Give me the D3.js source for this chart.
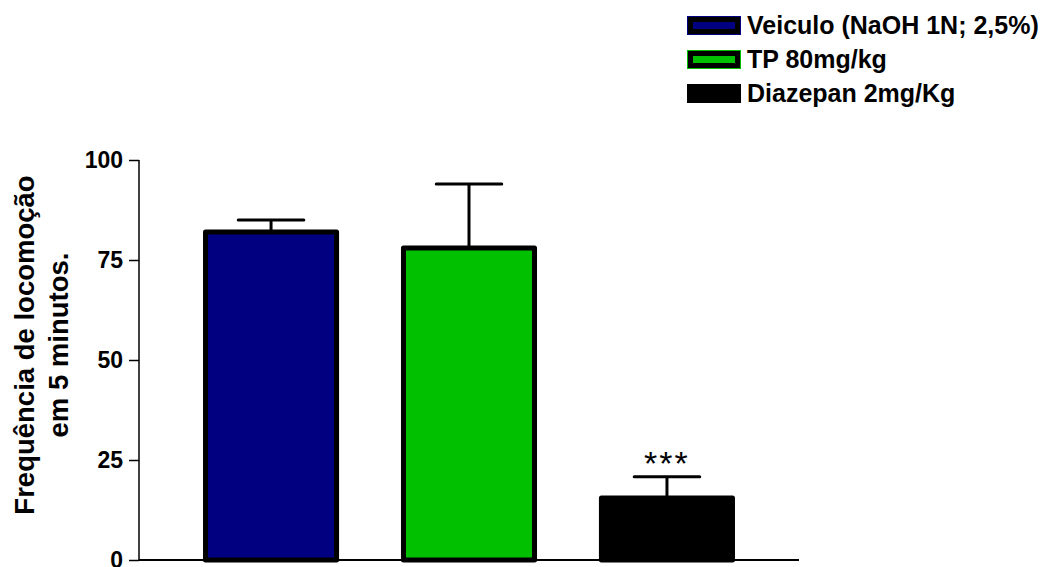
<!DOCTYPE html>
<html>
<head>
<meta charset="utf-8">
<script src="https://d3js.org/d3.v7.min.js"></script>
<style>
  body { margin: 0; background: #fff; }
  text { font-family: "Liberation Sans", Arial, Helvetica, sans-serif; }
</style>
</head>
<body>
<div id="graph"></div>
<script>
// data
var groups = ["Veiculo (NaOH 1N; 2,5%)", "TP 80mg/kg", "Diazepan 2mg/Kg"];
var means = [82, 78, 15.5];
var sems = [3, 16, 5.3];
var fills = ["#000080", "#00c000", "#000000"];
var marks = ["", "", "***"];
var yTicks = [0, 25, 50, 75, 100];

var W = 1051, H = 567;

var svg = d3.select("#graph")
  .append("svg")
    .attr("width", W)
    .attr("height", H);

var x = d3.scaleBand()
  .domain(groups)
  .range([139, 799])
  .paddingInner(0.338)
  .paddingOuter(0.336);

var y = d3.scaleLinear()
  .domain([0, 100])
  .range([560, 160]);

// y axis
var yAxis = svg.append("g")
  .attr("transform", "translate(139,0)")
  .call(d3.axisLeft(y).tickValues(yTicks).tickSize(10).tickPadding(6).tickFormat(d3.format("d")));
yAxis.select(".domain").attr("stroke-width", 1.5).attr("d", "M0," + y(100) + "V" + y(0));
yAxis.selectAll(".tick line").attr("stroke-width", 1.5);
yAxis.selectAll(".tick text")
  .style("font-family", "'Liberation Sans', Arial, sans-serif")
  .style("font-weight", "bold")
  .style("font-size", "23px")
  .attr("fill", "#000");

// x axis line
svg.append("line")
  .attr("x1", x.range()[0]).attr("x2", x.range()[1])
  .attr("y1", y(0)).attr("y2", y(0))
  .attr("stroke", "#000").attr("stroke-width", 2);

// y label
svg.append("text")
  .attr("transform", "translate(34," + 345 + ") rotate(-90)")
  .attr("text-anchor", "middle")
  .style("font-weight", "bold")
  .style("font-size", "27.5px")
  .text("Frequência de locomoção");
svg.append("text")
  .attr("transform", "translate(68," + 345 + ") rotate(-90)")
  .attr("text-anchor", "middle")
  .style("font-weight", "bold")
  .style("font-size", "27.5px")
  .text("em 5 minutos.");

var idx = d3.range(groups.length);

// error bars (behind bars)
svg.append("g").selectAll("line.err")
  .data(idx).enter().append("line")
    .attr("x1", function(i) { return x(groups[i]) + x.bandwidth() / 2; })
    .attr("x2", function(i) { return x(groups[i]) + x.bandwidth() / 2; })
    .attr("y1", function(i) { return y(means[i]); })
    .attr("y2", function(i) { return y(means[i] + sems[i]); })
    .attr("stroke", "#000").attr("stroke-width", 3);
svg.append("g").selectAll("line.cap")
  .data(idx).enter().append("line")
    .attr("x1", function(i) { return x(groups[i]) + x.bandwidth() / 4; })
    .attr("x2", function(i) { return x(groups[i]) + x.bandwidth() * 3 / 4; })
    .attr("y1", function(i) { return y(means[i] + sems[i]); })
    .attr("y2", function(i) { return y(means[i] + sems[i]); })
    .attr("stroke", "#000").attr("stroke-width", 3)
    .attr("stroke-linecap", "round");

// bars
svg.append("g").selectAll("rect")
  .data(idx).enter().append("rect")
    .attr("x", function(i) { return x(groups[i]); })
    .attr("width", x.bandwidth())
    .attr("y", function(i) { return y(means[i]); })
    .attr("height", function(i) { return y(0) - y(means[i]); })
    .attr("fill", function(i) { return fills[i]; })
    .attr("stroke", "#000").attr("stroke-width", 5)
    .attr("stroke-linejoin", "round");

// significance marks
svg.append("g").selectAll("text")
  .data(idx).enter().append("text")
    .attr("x", function(i) { return x(groups[i]) + x.bandwidth() / 2; })
    .attr("y", function(i) { return y(means[i] + sems[i]) - 2; })
    .attr("text-anchor", "middle")
    .style("font-size", "34px")
    .style("letter-spacing", "2px")
    .text(function(i) { return marks[i]; });

// legend
var legend = svg.append("g").selectAll("g")
  .data(idx).enter().append("g")
    .attr("transform", function(i) { return "translate(688," + (17 + i * 34) + ")"; });
legend.append("rect")
  .attr("x", -0.5).attr("y", -0.5)
  .attr("width", 53).attr("height", 18)
  .attr("fill", "none")
  .attr("stroke", function(i) { return fills[i]; })
  .attr("stroke-width", 1);
legend.append("rect")
  .attr("x", 2.5).attr("y", 2.5)
  .attr("width", 47).attr("height", 12)
  .attr("fill", function(i) { return fills[i]; })
  .attr("stroke", "#000").attr("stroke-width", 5);
legend.append("text")
  .attr("x", 59).attr("y", 17)
  .style("font-weight", "bold")
  .style("font-size", "25px")
  .text(function(i) { return groups[i]; });
</script>
</body>
</html>
